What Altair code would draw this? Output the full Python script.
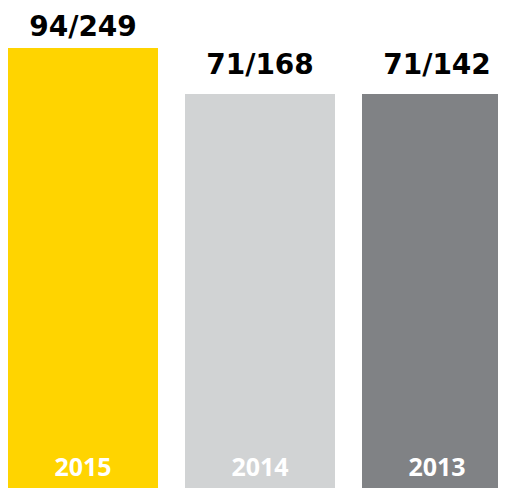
import altair as alt
import pandas as pd

years = ["2015", "2014", "2013"]
labels = ["94/249", "71/168", "71/142"]
heights = [448, 402, 402]
colors = ["#FFD400", "#D1D3D4", "#808285"]

df = pd.DataFrame({"year": years, "label": labels, "h": heights})

x = alt.X("year:N", sort=years, axis=None,
          scale=alt.Scale(range=[0, 504], paddingInner=27 / 177, paddingOuter=0))
y = alt.Y("h:Q", axis=None,
          scale=alt.Scale(domain=[0, 488], range=[488, 0], nice=False, zero=True))

base = alt.Chart(df)

bars = base.mark_bar(clip=True).encode(
    x=x, y=y,
    color=alt.Color("year:N", scale=alt.Scale(domain=years, range=colors), legend=None),
)

top1 = base.transform_filter(alt.datum.year == "2015").mark_text(
    font="DejaVu Sans", fontWeight="bold", fontSize=28, color="#000000",
    baseline="alphabetic", dy=-12,
).encode(x=x, y=y, text="label:N")

top2 = base.transform_filter(alt.datum.year != "2015").mark_text(
    font="DejaVu Sans", fontWeight="bold", fontSize=28, color="#000000",
    baseline="alphabetic", dy=-20,
).encode(x=x, y=y, text="label:N")

yr = base.mark_text(
    font="Open Sans", fontWeight="bold", fontSize=25, color="#FFFFFF",
    baseline="bottom",
).encode(x=x, y=alt.value(473), text="year:N")

chart = alt.layer(bars, top1, top2, yr).properties(
    width=490, height=480, padding=0,
    autosize=alt.AutoSizeParams(type="none"),
).configure_view(stroke=None)

chart.save("out.html", embed_options={"renderer": "svg", "actions": False})
